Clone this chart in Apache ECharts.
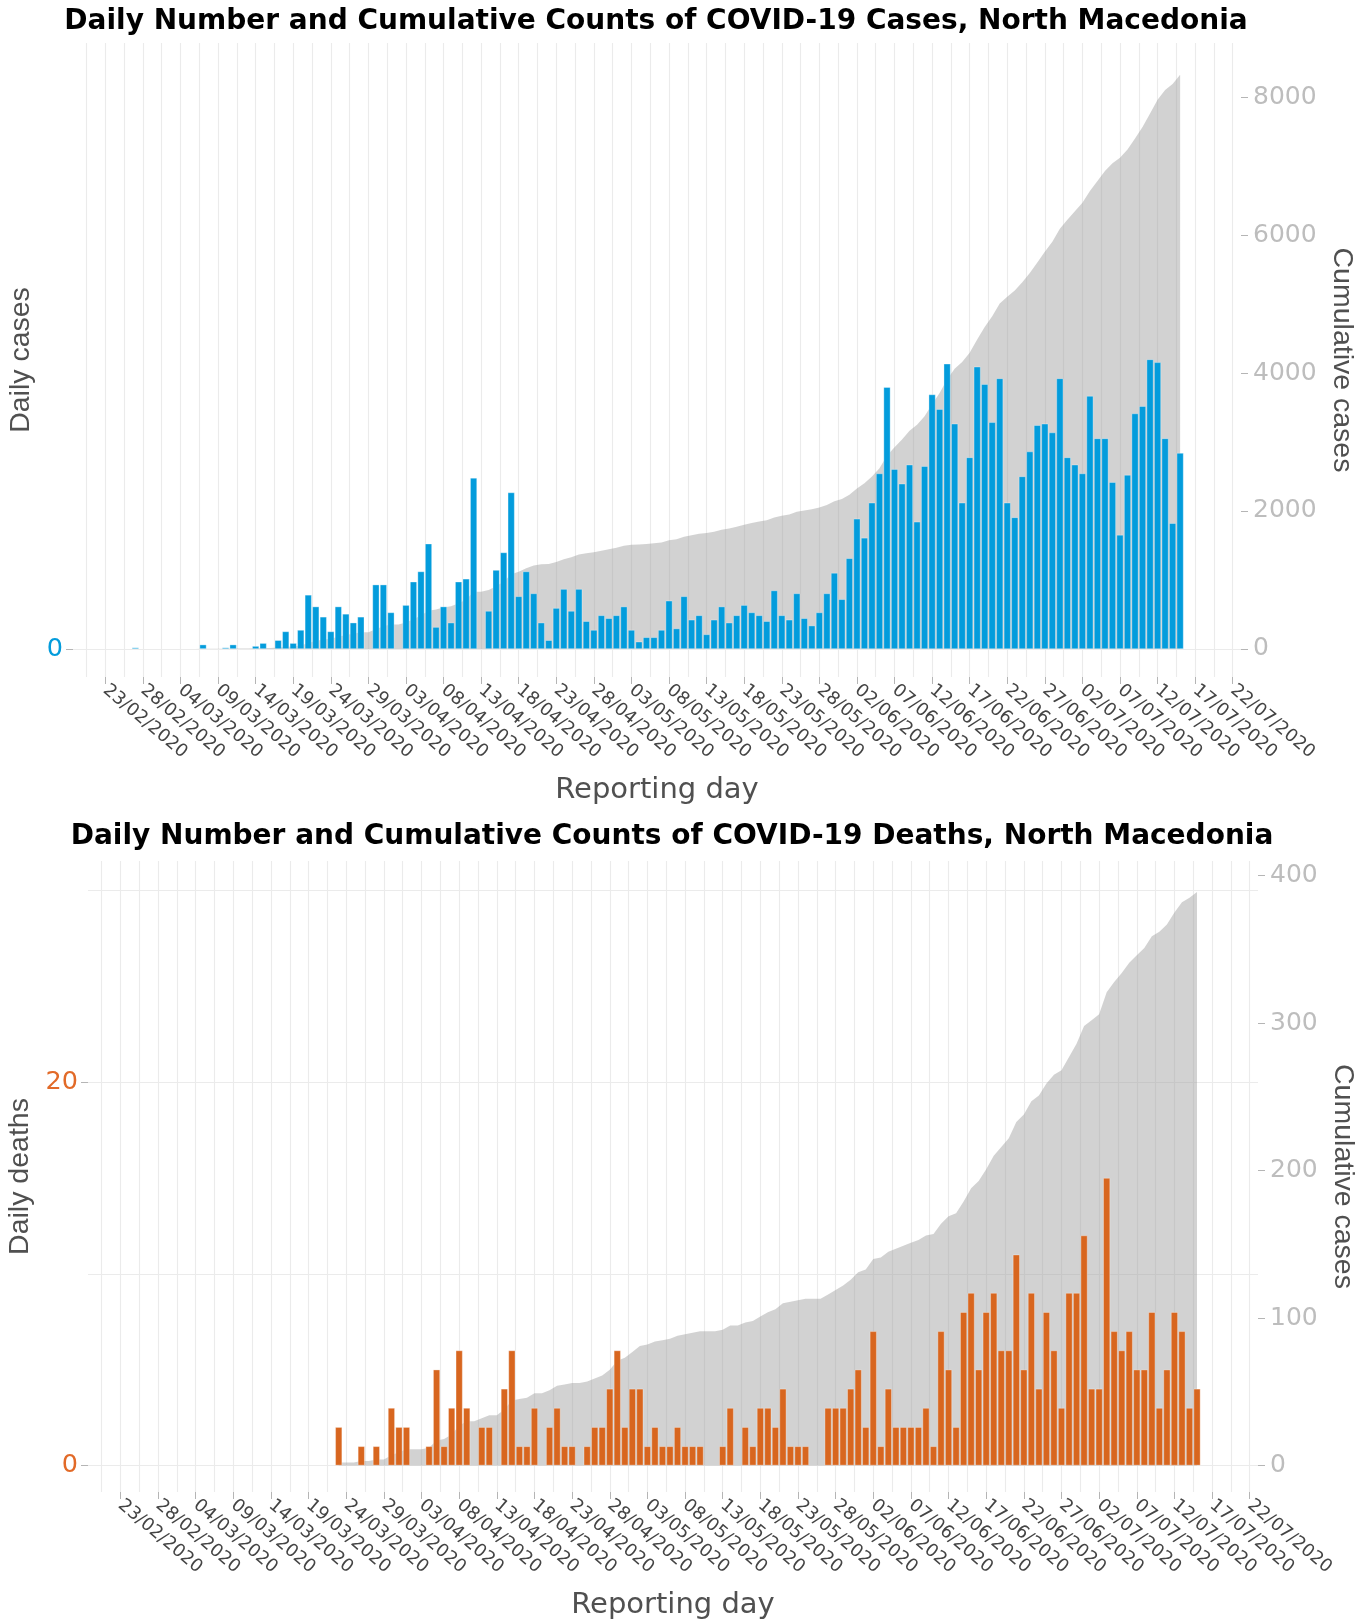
<!DOCTYPE html>
<html>
<head>
<meta charset="utf-8">
<script src="https://cdn.jsdelivr.net/npm/echarts@6/dist/echarts.min.js"></script>
<style>
html,body{margin:0;padding:0;background:#ffffff;}
#chart{width:1360px;height:1623px;}
</style>
</head>
<body>
<div id="chart"></div>
<script>
// ---------------- DATA ----------------
const tickLabels = ['23/02/2020','28/02/2020','04/03/2020','09/03/2020','14/03/2020','19/03/2020','24/03/2020','29/03/2020',
  '03/04/2020','08/04/2020','13/04/2020','18/04/2020','23/04/2020','28/04/2020','03/05/2020','08/05/2020','13/05/2020',
  '18/05/2020','23/05/2020','28/05/2020','02/06/2020','07/06/2020','12/06/2020','17/06/2020','22/06/2020','27/06/2020',
  '02/07/2020','07/07/2020','12/07/2020','17/07/2020','22/07/2020'];

const casesStart = '27/02/2020';
const dailyCases = [
  1,0,0,0,0,0,0,0,0,
  3,0,0,1,3,0,0,2,4,0,
  6,12,4,13,37,29,22,12,29,24,
  18,22,0,44,44,25,0,30,46,53,
  72,15,29,18,46,48,117,0,26,54,
  66,107,36,53,38,18,6,28,41,26,
  41,19,13,23,21,23,29,13,5,8,
  8,13,33,14,36,20,23,10,20,29,
  18,23,30,25,23,19,40,23,20,38,
  21,16,25,38,52,34,62,89,76,100,
  120,179,123,113,126,87,125,174,164,195,
  154,100,131,193,181,155,185,100,90,118,
  135,153,154,148,185,131,126,120,173,144,
  144,114,78,119,161,166,198,196,144,86,134];
const cumulativeCases = [
  1,1,1,1,1,1,1,1,1,
  4,4,4,5,8,8,8,10,14,14,
  20,32,36,49,86,115,137,149,178,202,
  220,242,242,286,330,355,355,385,431,484,
  556,571,600,618,664,712,829,829,855,909,
  975,1082,1118,1171,1209,1227,1233,1261,1302,1328,
  1369,1388,1401,1424,1445,1468,1497,1510,1515,1523,
  1531,1544,1577,1591,1627,1647,1670,1680,1700,1729,
  1747,1770,1800,1825,1848,1867,1907,1930,1950,1988,
  2009,2025,2050,2088,2140,2174,2236,2325,2401,2501,
  2621,2800,2923,3036,3162,3249,3374,3548,3712,3907,
  4061,4161,4292,4485,4666,4821,5006,5106,5196,5314,
  5449,5602,5756,5904,6089,6220,6346,6466,6639,6783,
  6927,7041,7119,7238,7399,7565,7763,7959,8103,8189,8323];

const deathsStart = '23/03/2020';
const dailyDeaths = [
  2,0,0,1,0,1,0,3,2,2,
  0,0,1,5,1,3,6,3,0,2,
  2,0,4,6,1,1,3,0,2,3,
  1,1,0,1,2,2,4,6,2,4,
  4,1,2,1,1,2,1,1,1,0,
  0,1,3,0,2,1,3,3,2,4,
  1,1,1,0,0,3,3,3,4,5,
  2,7,1,4,2,2,2,2,3,1,
  7,5,2,8,9,5,8,9,6,6,
  11,5,9,4,8,6,3,9,9,12,
  4,4,15,7,6,7,5,5,8,3,
  5,8,7,3,4];
const cumulativeDeaths = [
  2,2,2,3,3,4,4,7,9,11,
  11,11,12,17,18,21,27,30,30,32,
  34,34,38,44,45,46,49,49,51,54,
  55,56,56,57,59,61,65,71,73,77,
  81,82,84,85,86,88,89,90,91,91,
  91,92,95,95,97,98,101,104,106,110,
  111,112,113,113,113,116,119,122,126,131,
  133,140,141,145,147,149,151,153,156,157,
  164,169,171,179,188,193,201,210,216,222,
  233,238,247,251,259,265,268,277,286,298,
  302,306,321,328,334,341,346,351,359,362,
  367,375,382,385,389];

const casesLeftTicks = [0];
const casesLeftGrid = [0];
const casesRightTicks = [0, 2000, 4000, 6000, 8000];
const deathsLeftTicks = [0, 20];
const deathsLeftGrid = [0, 10, 20, 30];
const deathsRightTicks = [0, 100, 200, 300, 400];

// ---------------- HELPERS ----------------
function dayNum(s) {
  const [d, m, y] = s.split('/').map(Number);
  const [d0, m0, y0] = tickLabels[0].split('/').map(Number);
  return Math.round((Date.UTC(y, m - 1, d) - Date.UTC(y0, m0 - 1, d0)) / 86400000);
}
const tickDays = tickLabels.map(dayNum);
const labelByDay = {};
tickDays.forEach((d, i) => { labelByDay[d] = tickLabels[i]; });

const X_MIN = -4.3, X_MAX = 151.1;
const gridX = [];
tickDays.forEach(d => { gridX.push(d); gridX.push(d - 2.5); });
gridX.push(tickDays[tickDays.length - 1] + 2.5);
const gridXIn = gridX.filter(v => v > X_MIN && v < X_MAX);

function pairs(start, arr, dropZero) {
  const s = dayNum(start);
  const out = arr.map((v, i) => [s + i, v]);
  return dropZero ? out.filter(p => p[1] > 0) : out;
}

// ---------------- LAYOUT / STYLE ----------------
const P = {
  top:    { left: 73, right: 119, top: 43,  height: 634, cumMin: -406, cumMax: 8783, ratio: 21.2 },
  bottom: { left: 88, right: 102, top: 861, height: 631, cumMin: -18,  cumMax: 410,  ratio: 13 }
};
const GRID_COLOR = '#ebebeb';
const TICK_COLOR = '#b5b5b5';
const V_TITLE = { fontFamily: 'Liberation Sans', fontSize: 28.5, color: '#505050' };
const H_TITLE = { fontFamily: 'DejaVu Sans', fontSize: 29, color: '#505050' };
const BLUE = '#039cdc', ORANGE = '#d8661f';
const AREA = 'rgba(150,150,150,0.43)';

function xAxisCfg(gridIndex) {
  return {
    type: 'value', gridIndex, min: X_MIN, max: X_MAX,
    splitLine: { show: false },
    axisLine: { show: false, onZero: false },
    axisTick: { show: true, length: 7, lineStyle: { color: TICK_COLOR, width: 1 }, customValues: tickDays },
    axisLabel: {
      customValues: tickDays,
      formatter: v => labelByDay[v] || '',
      rotate: -40, margin: 11, padding: [58, 0, 0, 0],
      fontFamily: 'DejaVu Sans', fontSize: 18, color: '#444444'
    },
    name: 'Reporting day', nameLocation: 'middle', nameGap: 99,
    nameTextStyle: H_TITLE
  };
}
function yAxisCfg(gridIndex, side, min, max, ticks, color, name, nameGap) {
  const left = side === 'left';
  return {
    type: 'value', gridIndex, position: side, min, max,
    splitLine: { show: false },
    axisLine: { show: false, onZero: false },
    axisTick: { show: true, length: 7, lineStyle: { color: TICK_COLOR, width: 1 }, customValues: ticks },
    axisLabel: { customValues: ticks, margin: left ? 10 : 12, fontFamily: 'DejaVu Sans', fontSize: left ? 25.5 : 25, color,
                 formatter: v => String(v) },
    name, nameLocation: 'middle', nameRotate: left ? 90 : -90, nameGap,
    nameTextStyle: V_TITLE
  };
}
function gridSeries(xi, yi, yVals) {
  return {
    type: 'line', xAxisIndex: xi, yAxisIndex: yi, data: [], silent: true, z: 1,
    markLine: {
      z: 1, silent: true, symbol: ['none', 'none'], animation: false,
      label: { show: false },
      lineStyle: { color: GRID_COLOR, width: 1.1, type: 'solid' },
      emphasis: { disabled: true },
      data: gridXIn.map(v => ({ xAxis: v })).concat(yVals.map(v => ({ yAxis: v })))
    }
  };
}
function areaSeries(xi, yi, data) {
  return {
    type: 'line', xAxisIndex: xi, yAxisIndex: yi, data, z: 2, silent: true,
    showSymbol: false, symbol: 'none', lineStyle: { width: 0 },
    areaStyle: { color: AREA, opacity: 1 }
  };
}
function barSeries(xi, yi, data, color) {
  return {
    type: 'bar', xAxisIndex: xi, yAxisIndex: yi, data, z: 3, silent: true,
    barWidth: 6.9,
    itemStyle: { color, borderColor: 'rgba(255,255,255,0.55)', borderWidth: 0.6 }
  };
}

const T = P.top, B = P.bottom;
const TITLE_STYLE = { fontFamily: 'DejaVu Sans', fontWeight: 'bold', fontSize: 28, color: '#000000' };
const option = {
  animation: false,
  backgroundColor: '#ffffff',
  title: [
    { text: 'Daily Number and Cumulative Counts of COVID-19 Cases, North Macedonia',
      left: 651, top: 3, textAlign: 'center', textStyle: TITLE_STYLE },
    { text: 'Daily Number and Cumulative Counts of COVID-19 Deaths, North Macedonia',
      left: 667, top: 818, textAlign: 'center', textStyle: TITLE_STYLE }
  ],
  grid: [
    { left: T.left, right: T.right, top: T.top, height: T.height, containLabel: false, outerBoundsMode: 'none' },
    { left: B.left, right: B.right, top: B.top, height: B.height, containLabel: false, outerBoundsMode: 'none' }
  ],
  xAxis: [ xAxisCfg(0), xAxisCfg(1) ],
  yAxis: [
    yAxisCfg(0, 'left',  T.cumMin / T.ratio, T.cumMax / T.ratio, casesLeftTicks, BLUE, 'Daily cases', 20),
    yAxisCfg(0, 'right', T.cumMin, T.cumMax, casesRightTicks, '#bdbdbd', 'Cumulative cases', 50),
    yAxisCfg(1, 'left',  B.cumMin / B.ratio, B.cumMax / B.ratio, deathsLeftTicks, '#e26a28', 'Daily deaths', 20),
    yAxisCfg(1, 'right', B.cumMin, B.cumMax, deathsRightTicks, '#bdbdbd', 'Cumulative cases', 33)
  ],
  series: [
    gridSeries(0, 0, casesLeftGrid),
    areaSeries(0, 1, pairs(casesStart, cumulativeCases, false)),
    barSeries(0, 0, pairs(casesStart, dailyCases, true), BLUE),
    gridSeries(1, 2, deathsLeftGrid),
    areaSeries(1, 3, pairs(deathsStart, cumulativeDeaths, false)),
    barSeries(1, 2, pairs(deathsStart, dailyDeaths, true), ORANGE)
  ]
};

const chart = echarts.init(document.getElementById('chart'), null, { renderer: 'canvas' });
chart.setOption(option);
</script>
</body>
</html>
